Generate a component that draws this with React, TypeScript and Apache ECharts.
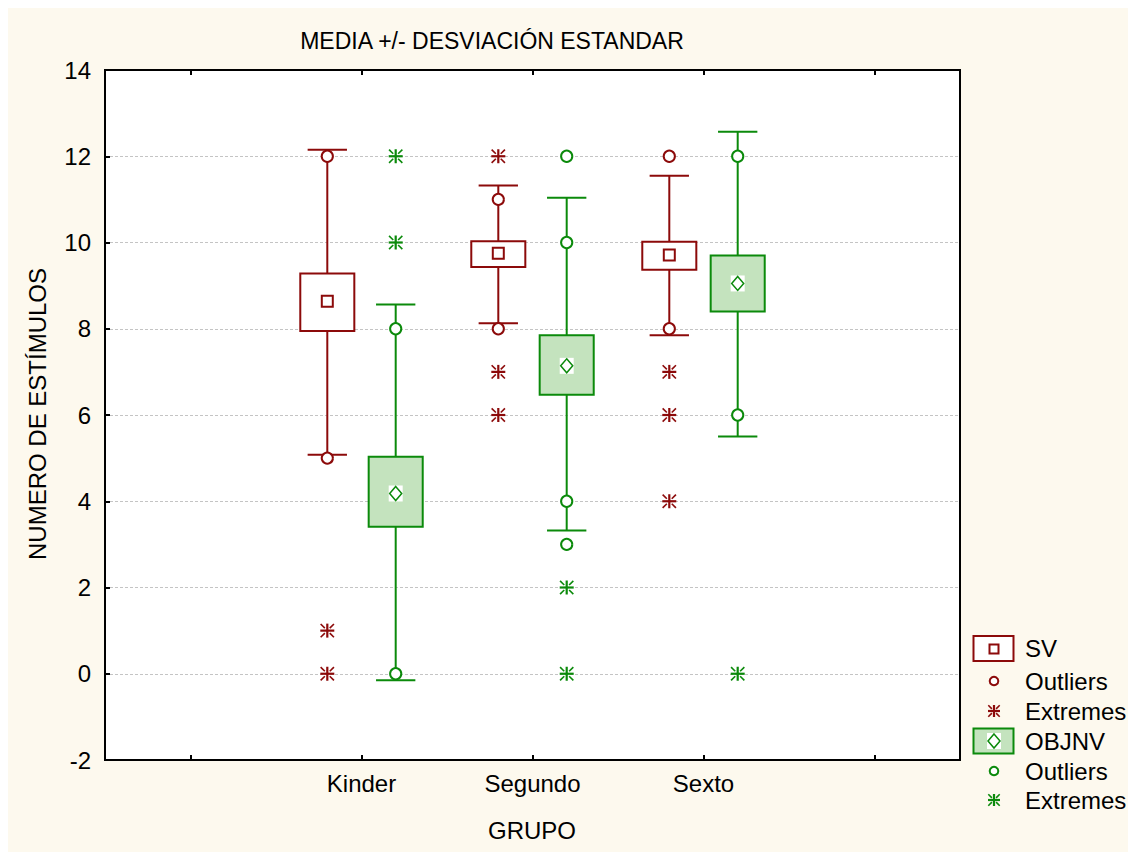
import React, { useEffect, useRef } from "react";
import * as echarts from "echarts";

// Groups along the x axis (blank slots pad both ends of the frame)
const categories = ["", "Kinder", "Segundo", "Sexto", ""];

// [category index, whisker low, box low, mean, box high, whisker high]
const svBoxes = [
  [1, 5.08, 7.95, 8.64, 9.28, 12.15],
  [2, 8.13, 9.43, 9.75, 10.03, 11.32],
  [3, 7.85, 9.37, 9.71, 10.02, 11.55],
];
const objBoxes = [
  [1, -0.15, 3.41, 4.18, 5.03, 8.56],
  [2, 3.32, 6.47, 7.14, 7.85, 11.04],
  [3, 5.5, 8.4, 9.05, 9.7, 12.57],
];

// [category index, value]
const svOutliers = [[1, 12], [1, 5], [2, 11], [2, 8], [3, 12], [3, 8]];
const svExtremes = [[1, 1], [1, 0], [2, 12], [2, 7], [2, 6], [3, 7], [3, 6], [3, 4]];
const objOutliers = [[1, 8], [1, 0], [2, 12], [2, 10], [2, 4], [2, 3], [3, 12], [3, 6]];
const objExtremes = [[1, 12], [1, 10], [2, 2], [2, 0], [3, 0]];

const legendLabels = ["SV", "Outliers", "Extremes", "OBJNV", "Outliers", "Extremes"];

const FONT = "'Liberation Sans', Arial, sans-serif";
const RED = "#8c0a0a";
const GREEN = "#0b8a0b";
const GREEN_FILL = "#c4e3be";
const CREAM = "#fdf9ee";

const SV_OFFSET = -0.2;
const OBJ_OFFSET = 0.2;

function asteriskLines(cx: number, cy: number, r: number, color: string) {
  const d1 = r * 0.95;
  const d2 = r * 0.35;
  const mk = (x1: number, y1: number, x2: number, y2: number, w: number) => ({
    type: "line",
    shape: { x1, y1, x2, y2 },
    style: { stroke: color, lineWidth: w },
  });
  return [
    mk(cx - r, cy, cx + r, cy, 2.2),
    mk(cx, cy - r, cx, cy + r, 2.2),
    mk(cx - d1, cy - d1, cx - d2, cy - d2, 1.6),
    mk(cx + d1, cy - d1, cx + d2, cy - d2, 1.6),
    mk(cx - d1, cy + d1, cx - d2, cy + d2, 1.6),
    mk(cx + d1, cy + d1, cx + d2, cy + d2, 1.6),
  ];
}

function meanSquare(x: number, y: number, color: string, size: number) {
  return {
    type: "rect",
    shape: { x: x - size / 2, y: y - size / 2, width: size, height: size },
    style: { fill: "#fff", stroke: color, lineWidth: 2 },
  };
}

function meanDiamond(x: number, y: number, color: string) {
  return [
    {
      type: "rect",
      shape: { x: x - 7, y: y - 8, width: 14, height: 16 },
      style: { fill: "#fff" },
    },
    {
      type: "polygon",
      shape: { points: [[x, y - 7], [x + 6, y], [x, y + 7], [x - 6, y]] },
      style: { fill: "none", stroke: color, lineWidth: 1.5 },
    },
  ];
}

function boxRenderer(offset: number, color: string, fill: string, kind: "square" | "diamond") {
  return (params: any, api: any) => {
    const cat = api.value(0);
    const band = api.size([1, 0])[0];
    const x = api.coord([cat, api.value(3)])[0] + offset * band;
    const yLow = api.coord([cat, api.value(1)])[1];
    const yBoxLow = api.coord([cat, api.value(2)])[1];
    const yMean = api.coord([cat, api.value(3)])[1];
    const yBoxHigh = api.coord([cat, api.value(4)])[1];
    const yHigh = api.coord([cat, api.value(5)])[1];
    const boxW = band * 0.316;
    const capW = band * 0.23;
    const stroke = { stroke: color, lineWidth: 2 };
    const children: any[] = [
      { type: "line", shape: { x1: x, y1: yHigh, x2: x, y2: yLow }, style: stroke },
      { type: "line", shape: { x1: x - capW / 2, y1: yHigh, x2: x + capW / 2, y2: yHigh }, style: stroke },
      { type: "line", shape: { x1: x - capW / 2, y1: yLow, x2: x + capW / 2, y2: yLow }, style: stroke },
      {
        type: "rect",
        shape: { x: x - boxW / 2, y: yBoxHigh, width: boxW, height: yBoxLow - yBoxHigh },
        style: { fill, stroke: color, lineWidth: 2 },
      },
    ];
    if (kind === "square") children.push(meanSquare(x, yMean, color, 11));
    else children.push(...meanDiamond(x, yMean, color));
    return { type: "group", children };
  };
}

function pointRenderer(offset: number, color: string, kind: "circle" | "asterisk") {
  return (params: any, api: any) => {
    const cat = api.value(0);
    const band = api.size([1, 0])[0];
    const p = api.coord([cat, api.value(1)]);
    const x = p[0] + offset * band;
    const y = p[1];
    if (kind === "circle") {
      return {
        type: "circle",
        shape: { cx: x, cy: y, r: 5.6 },
        style: { fill: "#fff", stroke: color, lineWidth: 2 },
      };
    }
    return { type: "group", children: asteriskLines(x, y, 7, color) };
  };
}

function text(str: string, x: number, y: number, size: number, align = "left", rotation = 0) {
  return {
    type: "text",
    x,
    y,
    rotation,
    style: {
      text: str,
      fill: "#000",
      font: `${size}px ${FONT}`,
      align,
      verticalAlign: "middle",
      textAlign: align,
      textVerticalAlign: "middle",
    },
  };
}

function buildLegend() {
  const ix = 986;
  const tx = 1017;
  const rows = [640, 673, 703, 733, 763, 792];
  const els: any[] = [];
  // SV box icon
  els.push({
    type: "rect",
    shape: { x: 965.5, y: 628, width: 40, height: 25 },
    style: { fill: "#fff", stroke: RED, lineWidth: 2 },
  });
  els.push(meanSquare(ix, rows[0] + 1, RED, 9));
  els.push({
    type: "circle",
    shape: { cx: ix, cy: rows[1], r: 4.3 },
    style: { fill: "#fff", stroke: RED, lineWidth: 2 },
  });
  els.push({ type: "group", children: asteriskLines(ix, rows[2], 6, RED) });
  // OBJNV box icon
  els.push({
    type: "rect",
    shape: { x: 965.5, y: 720.5, width: 40, height: 25 },
    style: { fill: GREEN_FILL, stroke: GREEN, lineWidth: 2 },
  });
  els.push(...meanDiamond(ix, rows[3], GREEN));
  els.push({
    type: "circle",
    shape: { cx: ix, cy: rows[4], r: 4.3 },
    style: { fill: "#fff", stroke: GREEN, lineWidth: 2 },
  });
  els.push({ type: "group", children: asteriskLines(ix, rows[5], 6, GREEN) });
  legendLabels.forEach((lbl, i) => els.push(text(lbl, tx, rows[i], 24)));
  return els;
}

export default function App() {
  const ref = useRef<HTMLDivElement>(null);

  useEffect(() => {
    if (!ref.current) return;
    const chart = echarts.init(ref.current, undefined, { renderer: "svg" });
    const axisLine = { show: true, onZero: false, lineStyle: { color: "#000", width: 2 } };
    const axisTick = { show: true, inside: true, length: 5, lineStyle: { color: "#000", width: 2 } };

    chart.setOption({
      animation: false,
      backgroundColor: CREAM,
      textStyle: { fontFamily: FONT },
      grid: {
        left: 97,
        top: 62,
        right: 176,
        bottom: 92,
        show: true,
        backgroundColor: "#fff",
        borderColor: "#000",
        borderWidth: 2,
      },
      xAxis: [
        {
          type: "category",
          data: categories,
          position: "bottom",
          boundaryGap: true,
          axisLine,
          axisTick: { ...axisTick, alignWithLabel: true, interval: 0 },
          axisLabel: { color: "#000", fontSize: 24, margin: 11, interval: 0, fontFamily: FONT },
          splitLine: { show: false },
        },
        {
          type: "category",
          data: categories,
          position: "top",
          boundaryGap: true,
          axisLine,
          axisTick: { ...axisTick, alignWithLabel: true, interval: 0 },
          axisLabel: { show: false },
          splitLine: { show: false },
        },
      ],
      yAxis: {
        type: "value",
        min: -2,
        max: 14,
        interval: 2,
        axisLine,
        axisTick,
        axisLabel: { color: "#000", fontSize: 24, margin: 14, fontFamily: FONT },
        splitLine: { show: true, lineStyle: { color: "#c4c4c4", width: 1, type: [3, 2] } },
      },
      graphic: [
        text("MEDIA +/- DESVIACIÓN ESTANDAR", 484, 33, 23, "center"),
        text("NUMERO DE ESTÍMULOS", 29, 406, 24, "center", Math.PI / 2),
        text("GRUPO", 524, 822, 24, "center"),
        ...buildLegend(),
      ],
      series: [
        { name: "SV", type: "custom", data: svBoxes, renderItem: boxRenderer(SV_OFFSET, RED, "#fff", "square"), z: 2 },
        { name: "OBJNV", type: "custom", data: objBoxes, renderItem: boxRenderer(OBJ_OFFSET, GREEN, GREEN_FILL, "diamond"), z: 2 },
        { name: "SV Outliers", type: "custom", data: svOutliers, renderItem: pointRenderer(SV_OFFSET, RED, "circle"), z: 3 },
        { name: "SV Extremes", type: "custom", data: svExtremes, renderItem: pointRenderer(SV_OFFSET, RED, "asterisk"), z: 3 },
        { name: "OBJNV Outliers", type: "custom", data: objOutliers, renderItem: pointRenderer(OBJ_OFFSET, GREEN, "circle"), z: 3 },
        { name: "OBJNV Extremes", type: "custom", data: objExtremes, renderItem: pointRenderer(OBJ_OFFSET, GREEN, "asterisk"), z: 3 },
      ],
    });

    return () => chart.dispose();
  }, []);

  return <div ref={ref} style={{ width: 1128, height: 844 }} />;
}
